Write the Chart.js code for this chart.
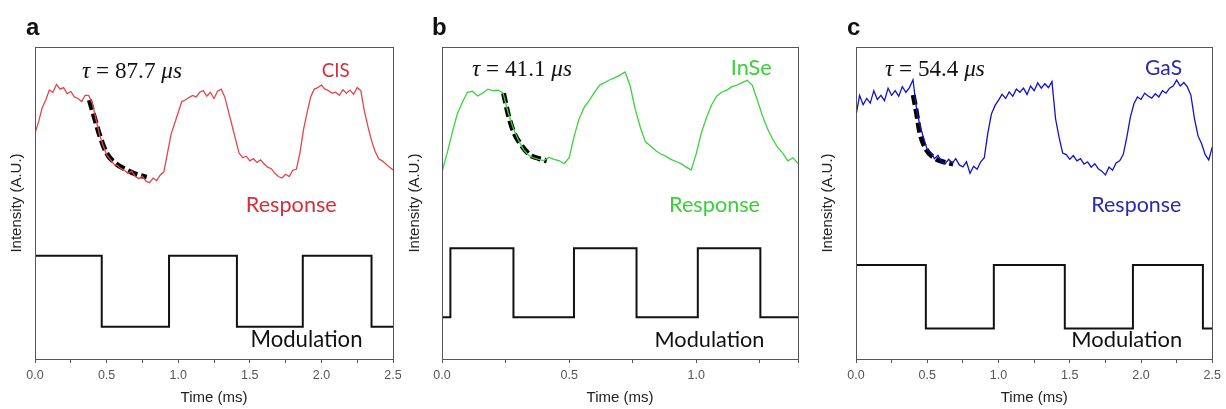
<!DOCTYPE html>
<html>
<head>
<meta charset="utf-8">
<script src="https://cdn.jsdelivr.net/npm/chart.js@4"></script>
<style>
body { margin: 0; background: #fff; }
.panel { position: absolute; top: 0; }
</style>
</head>
<body>
<div class="panel" style="left:0px"><canvas id="chartA" width="410" height="409"></canvas></div>
<div class="panel" style="left:406px"><canvas id="chartB" width="410" height="409"></canvas></div>
<div class="panel" style="left:819px"><canvas id="chartC" width="407" height="409"></canvas></div>
<script>
// values, intensity in arbitrary units (0 = bottom of frame, 100 = top)
const stepA = 0.025;
const responseA = [72.4, 76, 80.5, 83, 86.2, 85.5, 88, 86.5, 87, 85, 85.8, 84, 83.5, 82.5, 84.5, 84.5,
  82, 77, 72, 68.5, 65.5, 64, 62.5, 62, 61, 60.5, 59.5, 60.2, 58.5, 57.8, 58.5, 57, 56.5, 58, 57.2, 59,
  60, 66, 72, 75.5, 79, 82.5, 83, 83.8, 84.5, 84, 85.5, 86, 84.2, 85.5, 83.5, 85.8, 86.5, 84, 79.5, 75,
  70.5, 66, 64.5, 65, 63.5, 64.2, 63, 63.8, 62.5, 61.5, 61, 59.5, 58.5, 58, 59.2, 58.5, 60.5, 60.8, 66,
  73.5, 79, 84, 86.5, 87, 87.8, 86.5, 86, 85.2, 85.5, 84.5, 86.3, 85.2, 86.2, 84.8, 87, 86, 79.5, 74.5,
  70, 66.5, 64.2, 63.5, 62.5, 61.5, 60.6];
const fitTimeA = [0.38, 0.42, 0.455, 0.50, 0.56, 0.64, 0.72, 0.78];
const fitA = [83.0, 76.6, 71.2, 66.0, 62.8, 60.6, 59.0, 58.3];
const modTimeA = [0, 0.466, 0.936, 1.41, 1.87, 2.35, 2.5];
const modA = [33.1, 10.3, 33.1, 10.3, 33.1, 10.3, 10.3];

const stepB = 0.02;
const responseB = [60, 65.9, 72.5, 78.5, 82.3, 85.5, 85.8, 84.3, 85.2, 86.5, 86, 86.2, 85.3, 79, 74,
  70.2, 67.2, 65.3, 64.5, 64, 63.6, 64.6, 64, 63.6, 62.6, 64.5, 71.5, 77.2, 80.8, 83, 85.5, 87.8, 88.6,
  89.5, 90.2, 91, 92, 87.5, 80, 74.2, 69.6, 68.3, 66.8, 65.7, 65, 64, 63.3, 62.6, 61.5, 60.6, 65.9,
  72.5, 77.3, 81.4, 84.2, 85.5, 86.2, 87.3, 87.8, 88.6, 89.3, 87.8, 83, 78, 73.8, 70.5, 67.8, 66, 63.5,
  64.5, 62.7];
const fitTimeB = [0.242, 0.261, 0.281, 0.307, 0.346, 0.379, 0.412];
const fitB = [85.2, 78.2, 72.9, 69.1, 65.4, 64.3, 63.5];
const modTimeB = [0, 0.033, 0.281, 0.519, 0.765, 1.006, 1.252, 1.4];
const modB = [13.4, 35.5, 13.4, 35.5, 13.4, 35.5, 13.4, 13.4];

const stepC = 0.025;
const responseC = [78, 84.5, 81.5, 83.5, 82, 86, 83.2, 84.5, 82.8, 86.8, 84.5, 86, 84.2, 87.3, 85.5, 87,
  89.5, 80, 74.5, 70.8, 67, 66.2, 64.2, 65.3, 63.2, 62.5, 64, 62.8, 64.2, 62.2, 61.6, 63.2, 59.5, 61.8,
  60.8, 63.2, 64.5, 72.5, 78.5, 81.2, 83, 84.8, 83.5, 85.6, 84.2, 86.5, 85.5, 86.8, 84.8, 87.5, 86,
  88.5, 86.8, 88.2, 87, 88.9, 77, 71, 66, 65.5, 64, 65.2, 63.5, 64.2, 62.5, 63.2, 61.5, 62.6, 61, 60.2,
  59, 61.5, 60.5, 62.8, 63.5, 65.5, 71, 77.5, 81.8, 84, 83.2, 85.2, 84.3, 83.6, 85, 84, 86, 85.2, 86.8,
  87.5, 89.4, 87.5, 88.6, 87.2, 84.5, 77, 71.5, 69, 65.5, 63.8, 68];
const fitTimeC = [0.402, 0.425, 0.449, 0.495, 0.554, 0.612, 0.682];
const fitC = [84.6, 78.8, 72.3, 67.0, 64.3, 63.2, 62.5];
const modTimeC = [0, 0.49, 0.967, 1.465, 1.943, 2.434, 2.5];
const modC = [30.1, 9.8, 30.1, 9.8, 30.1, 9.8, 9.8];

const calibri = 'Lato, "Open Sans", sans-serif';
const cambria = '"Liberation Serif", "DejaVu Serif", serif';
const arial = '"Liberation Sans", Arial, sans-serif';

function runsWidth(ctx, runs, size, family, weight) {
  let w = 0;
  runs.forEach(r => {
    ctx.font = (r.italic ? 'italic ' : '') + (weight || 'normal') + ' ' + size + 'px ' + family;
    w += ctx.measureText(r.text).width;
  });
  return w;
}

// text labels placed in data units, font size scaled so the text spans the given width
const textPlugin = {
  id: 'texts',
  afterDatasetsDraw(chart, args, opts) {
    const ctx = chart.ctx;
    ctx.save();
    ctx.textBaseline = 'middle';
    ctx.textAlign = 'left';
    (opts.items || []).forEach(a => {
      const runs = a.runs || [{ text: a.text }];
      const size = 100 * a.width / runsWidth(ctx, runs, 100, a.family, a.weight);
      let x = chart.scales.x.getPixelForValue(a.x);
      const y = chart.scales.y.getPixelForValue(a.y);
      if (a.align === 'center') x -= a.width / 2;
      ctx.fillStyle = a.color;
      runs.forEach(r => {
        ctx.font = (r.italic ? 'italic ' : '') + (a.weight || 'normal') + ' ' + size + 'px ' + a.family;
        ctx.fillText(r.text, x, y);
        x += ctx.measureText(r.text).width;
      });
    });
    if (opts.label) {
      ctx.textBaseline = 'alphabetic';
      ctx.fillStyle = '#111';
      ctx.font = 'bold 24px ' + arial;
      ctx.fillText(opts.label.text, opts.label.x, opts.label.y);
    }
    ctx.restore();
  }
};

const framePlugin = {
  id: 'frame',
  afterDatasetsDraw(chart) {
    const a = chart.chartArea;
    const ctx = chart.ctx;
    ctx.save();
    ctx.strokeStyle = '#555';
    ctx.lineWidth = 1;
    ctx.strokeRect(Math.round(a.left) + 0.5, Math.round(a.top) + 0.5,
      Math.round(a.right - a.left), Math.round(a.bottom - a.top));
    ctx.restore();
  }
};

function makePanel(id, p) {
  const resp = p.response.map((v, i) => ({ x: +(i * p.step).toFixed(4), y: v }));
  const fit = p.fitTime.map((t, i) => ({ x: t, y: p.fit[i] }));
  const mod = p.modTime.map((t, i) => ({ x: t, y: p.mod[i] }));
  new Chart(document.getElementById(id), {
    type: 'line',
    data: {
      datasets: [
        { data: resp, borderColor: p.color, borderWidth: 1.3, pointRadius: 0, tension: 0 },
        { data: mod, borderColor: '#111', borderWidth: 2, pointRadius: 0, stepped: 'before' },
        { data: fit, borderColor: '#000', borderWidth: 5, borderDash: [10, 4], pointRadius: 0,
          cubicInterpolationMode: 'monotone' }
      ]
    },
    options: {
      responsive: false,
      animation: false,
      devicePixelRatio: 1,
      layout: { padding: { top: 47, right: p.padRight, bottom: 0, left: 0 } },
      plugins: {
        legend: { display: false },
        tooltip: { enabled: false },
        texts: { items: p.texts, label: p.label }
      },
      scales: {
        x: {
          type: 'linear',
          min: 0,
          max: p.xMax,
          border: { display: false },
          grid: { drawOnChartArea: false, drawTicks: true, tickLength: 4, color: '#555' },
          ticks: {
            stepSize: 0.25,
            padding: 5,
            color: '#555',
            font: { family: arial, size: 12.5 },
            maxRotation: 0,
            autoSkip: false,
            callback: v => (Math.abs(v * 2 - Math.round(v * 2)) < 1e-6 ? v.toFixed(1) : '')
          },
          title: {
            display: true,
            text: 'Time (ms)',
            color: '#222',
            font: { family: arial, size: 15, lineHeight: 1.2 },
            padding: { top: 0, bottom: 2 }
          },
          afterFit: s => { s.height = 50; }
        },
        y: {
          min: 0,
          max: 100,
          border: { display: false },
          grid: { display: false },
          ticks: { display: false },
          title: {
            display: true,
            text: 'Intensity (A.U.)',
            color: '#222',
            font: { family: arial, size: 15, lineHeight: 1.2 },
            padding: { top: p.yTitlePad, bottom: 0 }
          },
          afterFit: s => { s.width = p.yWidth; }
        }
      }
    },
    plugins: [textPlugin, framePlugin]
  });
}

makePanel('chartA', {
  step: stepA, response: responseA, fitTime: fitTimeA, fit: fitA, modTime: modTimeA, mod: modA,
  color: '#e0474c', xMax: 2.5, padRight: 17, yWidth: 35, yTitlePad: 8,
  label: { text: 'a', x: 26, y: 35 },
  texts: [
    { runs: [{ text: 'τ', italic: true }, { text: ' = 87.7 ' }, { text: 'μs', italic: true }],
      x: 0.328, y: 92, width: 100, family: cambria, color: '#111' },
    { text: 'CIS', x: 2.10, y: 92.3, width: 28, align: 'center', family: calibri, color: '#d3303c' },
    { text: 'Response', x: 1.79, y: 49.4, width: 91, align: 'center', family: calibri, color: '#d3303c' },
    { text: 'Modulation', x: 1.896, y: 6.1, width: 112, align: 'center', family: calibri, color: '#111' }
  ]
});

makePanel('chartB', {
  step: stepB, response: responseB, fitTime: fitTimeB, fit: fitB, modTime: modTimeB, mod: modB,
  color: '#3cd23c', xMax: 1.4, padRight: 18, yWidth: 36, yTitlePad: 0,
  label: { text: 'b', x: 26, y: 35 },
  texts: [
    { runs: [{ text: 'τ', italic: true }, { text: ' = 41.1 ' }, { text: 'μs', italic: true }],
      x: 0.118, y: 92.6, width: 100, family: cambria, color: '#111' },
    { text: 'InSe', x: 1.216, y: 93.3, width: 41, align: 'center', family: calibri, color: '#3ccf3c' },
    { text: 'Response', x: 1.072, y: 49.4, width: 91, align: 'center', family: calibri, color: '#3ccf3c' },
    { text: 'Modulation', x: 1.052, y: 6.1, width: 110, align: 'center', family: calibri, color: '#111' }
  ]
});

makePanel('chartC', {
  step: stepC, response: responseC, fitTime: fitTimeC, fit: fitC, modTime: modTimeC, mod: modC,
  color: '#1212c8', xMax: 2.5, padRight: 13, yWidth: 37, yTitlePad: 0,
  label: { text: 'c', x: 28, y: 35 },
  texts: [
    { runs: [{ text: 'τ', italic: true }, { text: ' = 54.4 ' }, { text: 'μs', italic: true }],
      x: 0.203, y: 92.6, width: 100, family: cambria, color: '#111' },
    { text: 'GaS', x: 2.158, y: 93.3, width: 37, align: 'center', family: calibri, color: '#2a2aaa' },
    { text: 'Response', x: 1.967, y: 49.4, width: 90, align: 'center', family: calibri, color: '#2a2aaa' },
    { text: 'Modulation', x: 1.90, y: 6.1, width: 111, align: 'center', family: calibri, color: '#111' }
  ]
});
</script>
</body>
</html>
